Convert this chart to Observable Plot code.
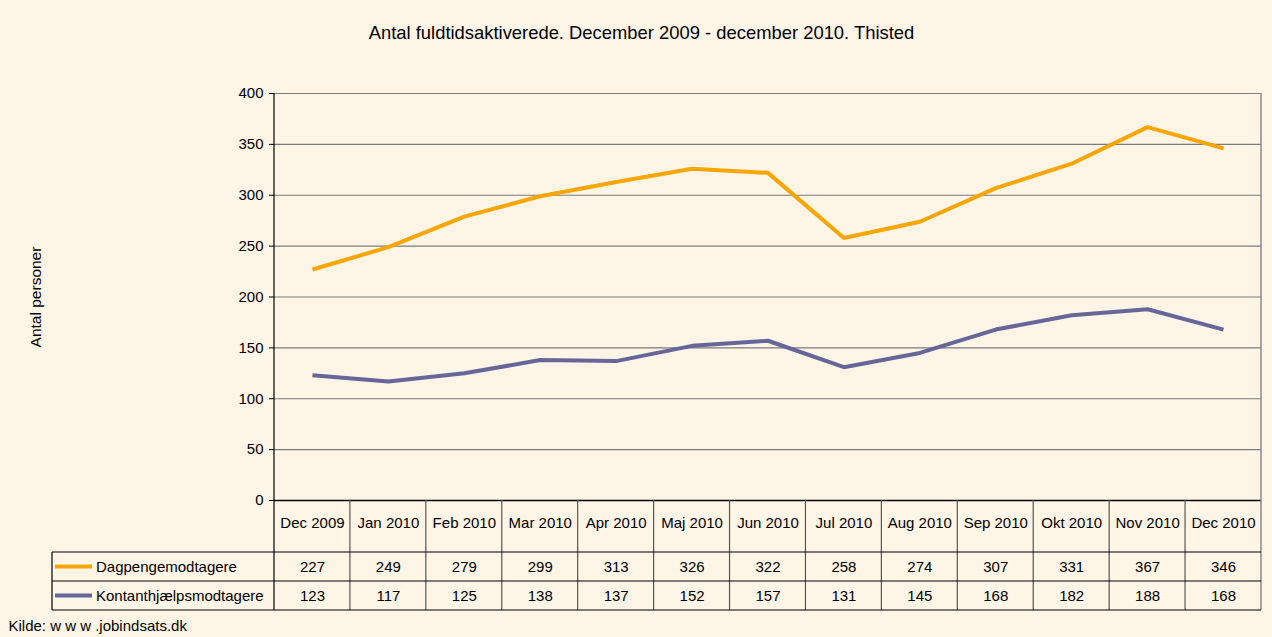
<!DOCTYPE html>
<html>
<head>
<meta charset="utf-8">
<script src="https://cdn.jsdelivr.net/npm/d3@7"></script>
<script src="https://cdn.jsdelivr.net/npm/@observablehq/plot@0.6"></script>
<style>
  html, body { margin: 0; padding: 0; background: #FEF5E7; }
  #chart { position: relative; width: 1272px; height: 637px; }
  svg { font-family: "Liberation Sans", Arial, sans-serif; }
</style>
</head>
<body>
<div id="chart"></div>
<script>
const title = "Antal fuldtidsaktiverede. December 2009 - december 2010. Thisted";
const yLabel = "Antal personer";
const caption = "Kilde: w w w .jobindsats.dk";
const months = ["Dec 2009","Jan 2010","Feb 2010","Mar 2010","Apr 2010","Maj 2010","Jun 2010","Jul 2010","Aug 2010","Sep 2010","Okt 2010","Nov 2010","Dec 2010"];
const seriesNames = ["Dagpengemodtagere","Kontanthjælpsmodtagere"];
const dagpenge = [227,249,279,299,313,326,322,258,274,307,331,367,346];
const kontant = [123,117,125,138,137,152,157,131,145,168,182,188,168];
const yTicks = [0,50,100,150,200,250,300,350,400];
const colors = ["#F9A602","#666699"];

const seriesValues = [dagpenge, kontant];
const rows = seriesNames.flatMap((s, si) => months.map((m, i) => ({series: s, month: m, value: seriesValues[si][i]})));

const W = 1272, H = 637;
const mL = 274, mR = 11, mT = 93, mB = 137;
const frameCx = mL + (W - mL - mR) / 2;

const plot = Plot.plot({
  width: W, height: H,
  marginLeft: mL, marginRight: mR, marginTop: mT, marginBottom: mB,
  style: {background: "transparent", fontFamily: "Liberation Sans, Arial, sans-serif", fontSize: "15px", color: "#000"},
  x: {type: "band", domain: months, padding: 0, round: false, axis: null},
  y: {domain: [0, 400], ticks: yTicks, tickSize: 5, tickPadding: 6, label: null, tickFormat: d => String(d)},
  color: {domain: seriesNames, range: colors},
  marks: [
    Plot.ruleY(yTicks.filter(d => d > 0), {stroke: "#7a7a7a", strokeWidth: 1.2}),
    Plot.line(rows, {x: "month", y: "value", z: "series", stroke: "series", strokeWidth: 4, strokeLinejoin: "miter", strokeLinecap: "butt"}),
    Plot.ruleY([0], {stroke: "#000", strokeWidth: 1.5}),
    // category row
    Plot.text(months, {x: d => d, frameAnchor: "bottom", lineAnchor: "middle", dy: 23, text: d => d, fontSize: 15, fill: "#000"}),
    // value rows
    Plot.text(rows.filter(r => r.series === seriesNames[0]), {x: "month", text: "value", frameAnchor: "bottom", lineAnchor: "middle", dy: 67, fontSize: 15, fill: "#000"}),
    Plot.text(rows.filter(r => r.series === seriesNames[1]), {x: "month", text: "value", frameAnchor: "bottom", lineAnchor: "middle", dy: 96, fontSize: 15, fill: "#000"}),
    // title
    Plot.text([title], {frameAnchor: "top", lineAnchor: "middle", textAnchor: "middle", dx: (W / 2 + 5) - frameCx, dy: -60, text: d => d, fontSize: 18.4, fill: "#000"}),
    // caption
    Plot.text([caption], {frameAnchor: "bottom-left", lineAnchor: "middle", textAnchor: "start", dx: -266, dy: 126, text: d => d, fontSize: 15, fill: "#000"}),
    // y label
    Plot.text([yLabel], {frameAnchor: "left", lineAnchor: "middle", textAnchor: "middle", dx: -238, dy: 0, rotate: -90, text: d => d, fontSize: 15.5, fill: "#000"})
  ]
});

document.getElementById("chart").appendChild(plot);

// Table grid and legend, positioned from the plot's own x scale
const sx = plot.scale("x");
const bw = sx.bandwidth;
const xs = months.map(m => sx.apply(m));
const left = xs[0], right = xs[xs.length - 1] + bw;
const y0 = H - mB;            // axis line
const r1 = y0 + 52, r2 = y0 + 81, r3 = y0 + 110;
const legLeft = left - 222;

const svg = d3.select(plot);
const g = svg.append("g").attr("stroke-width", 1.2).attr("text-anchor", "start");

// left axis line and right border
g.append("line").attr("x1", left).attr("x2", left).attr("y1", mT).attr("y2", r3).attr("stroke", "#000");
g.append("line").attr("x1", right).attr("x2", right).attr("y1", mT).attr("y2", r3).attr("stroke", "#8a8a8a").attr("stroke-width", 1.5);
// band separators
xs.slice(1).forEach(x => g.append("line").attr("x1", x).attr("x2", x).attr("y1", y0).attr("y2", r3).attr("stroke", "#555"));
// horizontal table lines
[r1, r2, r3].forEach(y => g.append("line").attr("x1", legLeft).attr("x2", right).attr("y1", y).attr("y2", y).attr("stroke", "#000"));
g.append("line").attr("x1", legLeft).attr("x2", legLeft).attr("y1", r1).attr("y2", r3).attr("stroke", "#000");

// legend swatches and names
seriesNames.forEach((s, i) => {
  const yc = i === 0 ? (r1 + r2) / 2 : (r2 + r3) / 2;
  g.append("line").attr("x1", legLeft + 3).attr("x2", legLeft + 40).attr("y1", yc).attr("y2", yc)
    .attr("stroke", colors[i]).attr("stroke-width", 4);
  g.append("text").attr("x", legLeft + 44).attr("y", yc).attr("dy", "0.35em")
    .attr("text-anchor", "start").attr("font-size", 15).attr("fill", "#000").attr("stroke", "none").text(s);
});
</script>
</body>
</html>
